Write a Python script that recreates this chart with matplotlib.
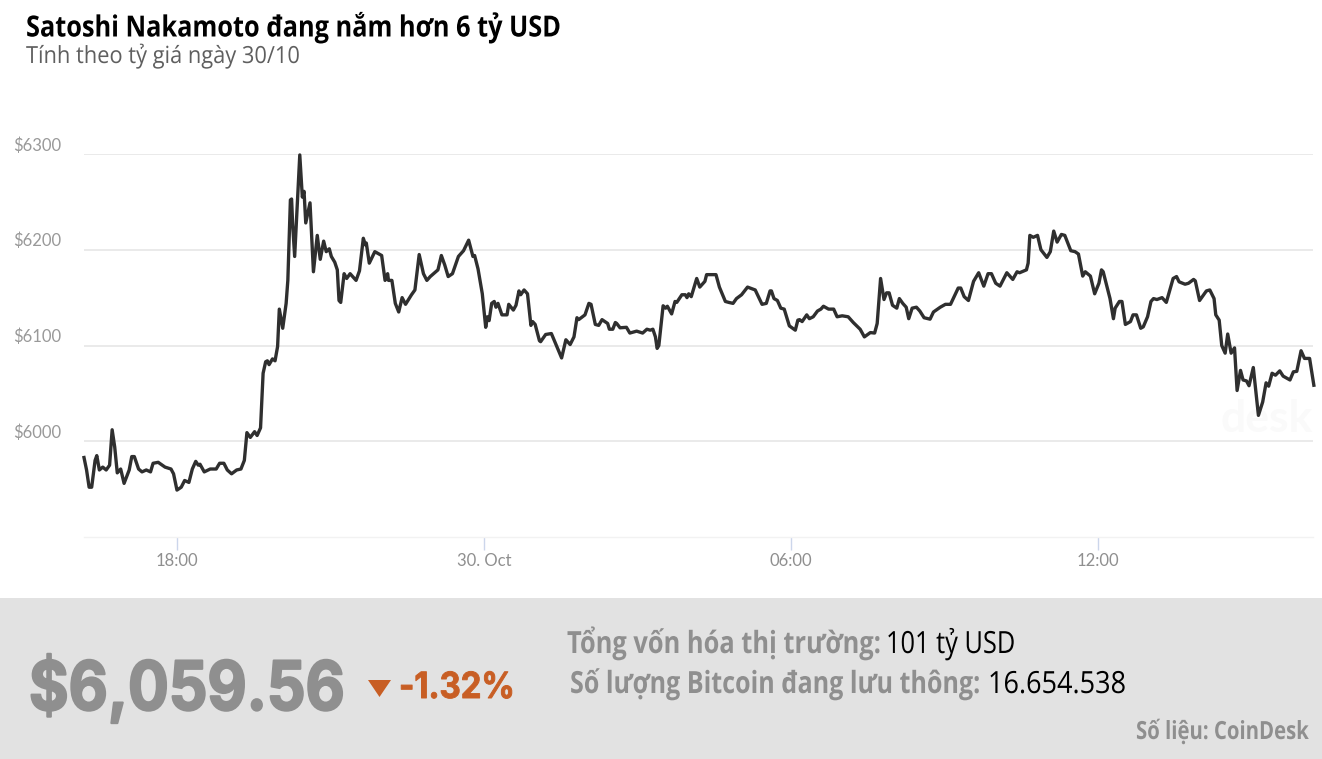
import matplotlib
matplotlib.use("Agg")
import matplotlib.pyplot as plt
from matplotlib.patches import Rectangle, Polygon
from matplotlib.patheffects import AbstractPathEffect
from matplotlib.transforms import Affine2D, Bbox, blended_transform_factory

W, H = 1322, 759

# minutes relative to 18:00 on 29 Oct
minutes = [-109,-106,-103,-100,-96,-94,-91,-87,-83,-79,-76,-73,-70,-66,-62,-56,-53,-50,-45,-41,-36,-31,-28,-22,-14,-7,-4,0,5,9,14,18,22,25,27,32,39,46,50,55,59,64,70,75,79,82,86,91,94,98,101,104,106,108,112,115,118,120,124,128,130,133,134.4,135.6,138,144,147,149,151,156,160,164.5,168,172,175,178.6,181,185,188,190,192,196,199,203,210,214,218.5,221,222,225.5,232,240,244,247,248,252,256,260,264,268,275,279,284,289,293,297,306,310,314,318,323,330,336,342,347,349,353,358,
           362,364,366,369,372,374,376.4,381,387,389,394.4,397.5,401,403,407,411,415,417,420,425,426.4,432.3,439,444.4,451,456,461,465.5,469,471,478.4,483,485.5,490.5,494.5,498.4,505,507,511,514,515.6,519.5,527,531,539,546,551,555,558,561,563,565,570,573,575,580,584,586,592,596,598,600,603,609.4,613,619,621,632,636,643,647,652,656,662,669,678,686,691,695.4,697,700,704,708,712,718,725,728,730,733,738.4,741.5,746,751,755,758,764,770,774,780,787,793,801,806,813,818,821,825,829,832,835,839,844,847,
           851,855,858,862,867,871,876,883,887,895,901,907,916,919,923,928,934,940,946,951,955,960,965,973,980,985,988,996,998,1000,1004,1009,1013,1020,1024,1028,1032,1037,1041,1048,1053,1057,1062,1065,1071,1076,1081,1084,1086,1094,1098,1100,1105,1108,1112,1118,1121,1125,1130,1133,1138,1142,1145,1149,1155,1160,1168,1172,1175,1182,1186,1192,1194,1199,1207,1211,1216,1218,1222,1225,1229,1232,1236,1240,1243,1247,1250,1254,1257,1262,1268,1273,1277,1280,1284,1288,1293,1297,1305,1309,1313,1318,1322,1328,1333]
prices = [5983,5970,5952,5952,5980,5985,5970,5973,5970,5975,6012,5994,5967,5971,5956,5970,5984,5984,5971,5968,5970,5968,5977,5978,5973,5971,5966,5949,5952,5959,5957,5971,5979,5975,5976,5968,5971,5971,5977,5977,5970,5966,5970,5971,5980,6009,6004,6010,6006,6014,6071,6083,6084,6080,6086,6084,6099,6138,6118,6144,6168,6252,6253,6227,6193,6299,6255,6261,6228,6249,6177,6215,6190,6209,6198,6201,6193,6187,6179,6147,6145,6175,6170,6175,6168,6178,6212,6205,6207,6186,6198,6194,6168,6175,6168,6168,6144,6135,6150,6143,6153,6158,6195,6175,6168,6172,6179,6194,6184,6172,6175,6193,6199,6210,6193,6194,6180,6154,
          6119,6130,6126,6144,6146,6140,6144,6132,6132,6143,6137,6142,6157,6153,6158,6154,6121,6125,6122,6105,6104,6111.5,6112.5,6101,6087,6106,6101,6109,6129,6127,6132,6144,6143,6122,6121,6127,6123,6117,6117,6124,6123,6118.5,6119,6113,6115,6113,6117,6116,6117,6109,6097,6100,6141.5,6139,6141,6133,6146,6145,6153,6153,6150,6154,6151,6170,6161,6167,6174,6174,6161,6146,6145,6144,6149,6153,6161,6158,6143,6144,6157,6157,6149,6147,6139,6138,6120.5,6116,6126.5,6127,6125,6132,6128,6130,6136,6138,6141,6138,6138,6130,6131,6130,6124,6117,6109,6113.5,6113,6123,6170,6148,6155,6155,6142,6139,6149,
          6144,6140,6128,6139,6140,6136,6129,6127.5,6135,6140,6143,6143,6160,6160,6151,6147,6167,6176,6162,6175,6175,6165,6162,6176,6169,6177,6176,6179,6186,6215,6213,6215,6200,6192,6198,6219.5,6208,6216,6215,6199,6198,6195.5,6172.5,6177,6172.5,6154,6165,6179,6177,6149,6128,6139,6146,6146,6122,6125,6132,6132,6118,6119.5,6130,6146,6149,6148,6150,6145,6170,6172,6166.5,6164,6165,6169,6167.5,6147,6157,6158,6149,6132,6126.5,6100,6092,6112,6092,6097.5,6053,6074,6064,6063,6058,6077,6027,6041,6061,6057.5,6071,6069,6073.5,6068,6064,6072.5,6073,6094.5,6086.5,6086.5,6058.5]

y_ticks = [6000, 6100, 6200, 6300]
y_labels = ["$6000", "$6100", "$6200", "$6300"]
x_ticks = [0, 360, 720, 1080]
x_labels = ["18:00", "30. Oct", "06:00", "12:00"]

title = "Satoshi Nakamoto đang nắm hơn 6 tỷ USD"
subtitle = "Tính theo tỷ giá ngày 30/10"
price_text = "$6,059.56"
change_text = "-1.32%"
stat1_label, stat1_value = "Tổng vốn hóa thị trường:", "101 tỷ USD"
stat2_label, stat2_value = "Số lượng Bitcoin đang lưu thông:", "16.654.538"
source = "Số liệu: CoinDesk"

GREY = "#8f8f8f"
ORANGE = "#c85e24"

fig = plt.figure(figsize=(W / 100, H / 100), dpi=100, facecolor="white")
renderer = fig.canvas.get_renderer()


def px(x, y):
    return x / W, 1 - y / H


class Condense(AbstractPathEffect):
    """Draw real text squeezed horizontally about its origin, optionally emboldened."""

    def __init__(self, sx, stroke=0.0):
        super().__init__()
        self.sx = sx
        self.stroke = stroke

    def draw_path(self, renderer, gc, tpath, affine, rgbFace=None):
        gc0 = renderer.new_gc()
        gc0.copy_properties(gc)
        if self.stroke:
            gc0.set_linewidth(self.stroke)
            gc0.set_foreground(rgbFace)
        renderer.draw_path(gc0, tpath, Affine2D().scale(self.sx, 1) + affine, rgbFace)
        gc0.restore()


def fit_text(x0, x1, baseline, s, stroke=0.0, **kw):
    t = fig.text(*px(x0, baseline), s, ha="left", va="baseline", **kw)
    full = t.get_window_extent(renderer)
    sx = (x1 - x0) / full.width
    t.set_path_effects([Condense(sx, stroke)])
    original = t._get_layout

    def condensed_layout(r):
        bbox, info, descent = original(r)
        return (Bbox.from_bounds(bbox.x0, bbox.y0, bbox.width * sx, bbox.height),
                info, descent)

    t._get_layout = condensed_layout
    return t


# Bottom band
fig.add_artist(Rectangle((0, 0), 1, 1 - 598 / H, transform=fig.transFigure,
                         facecolor="#e2e2e2", edgecolor="none", zorder=0))

ax = fig.add_axes([84 / W, 1 - 537 / H, (1313 - 84) / W, (537 - 154) / H])
ax.set_xlim(-109, 1332)
ax.set_ylim(5900, 6300)
ax.set_facecolor("none")
for name, s in ax.spines.items():
    s.set_visible(name == "bottom")
ax.spines["bottom"].set_color("#f2f2f2")
ax.spines["bottom"].set_linewidth(1)
ax.set_yticks(y_ticks)
ax.set_yticklabels(y_labels)
ax.set_xticks(x_ticks)
ax.set_xticklabels(x_labels)
ax.yaxis.grid(True, color="#e6e6e6", lw=1.2)
ax.set_axisbelow(True)
ax.tick_params(axis="y", length=0, pad=0, labelsize=12, labelcolor="#999999")
label_tf = blended_transform_factory(fig.transFigure, ax.transData) + Affine2D().translate(0, 8.5)
for lab in ax.get_yticklabels():
    lab.set_transform(label_tf)
    lab.set_ha("right")
    lab.set_va("center")
    lab.set_fontfamily("Lato")
    lab.set_position((61 / W, lab.get_position()[1]))
ax.tick_params(axis="x", direction="out", length=9.4, width=1, color="#ccd6eb",
               pad=2, labelsize=12, labelcolor="#8f8f8f")
for lab in ax.get_xticklabels():
    lab.set_fontfamily("Lato")

# Faint watermark
ax.text(1332, 6010, "desk", ha="right", va="baseline", fontsize=32,
        fontweight="bold", family="Lato", color="#fafafa", zorder=1)

ax.plot(minutes, prices, color="#2f2f2f", lw=2.4, solid_joinstyle="round",
        clip_on=False, zorder=3)

# Header
fit_text(26, 561, 36.5, title, family="Open Sans", fontsize=21, fontweight="bold", color="black")
fit_text(26, 300, 63, subtitle, family="Open Sans", fontsize=17, color="#5f5f5f")

# Footer
fit_text(29, 345, 710, price_text, stroke=1.5, family="Inter", fontsize=49, fontweight="bold", color=GREY)
fig.add_artist(Polygon([px(368, 680), px(391, 680), px(379.5, 697)], closed=True,
                       transform=fig.transFigure, facecolor=ORANGE, edgecolor="none"))
fit_text(399, 515, 698, change_text, stroke=0.7, family="Inter", fontsize=26, fontweight="bold", color=ORANGE)

fit_text(567, 880, 653, stat1_label, family="Open Sans", fontsize=22, fontweight="bold", color=GREY)
fit_text(886, 1015, 653, stat1_value, family="Open Sans", fontsize=22, color="black")
fit_text(570, 979, 693, stat2_label, family="Open Sans", fontsize=22, fontweight="bold", color=GREY)
fit_text(988, 1126, 693, stat2_value, family="Open Sans", fontsize=22, color="black")
fit_text(1136, 1309, 739, source, family="Open Sans", fontsize=18, fontweight="bold", color=GREY)

fig.savefig("out.png", dpi=100, facecolor="white")
